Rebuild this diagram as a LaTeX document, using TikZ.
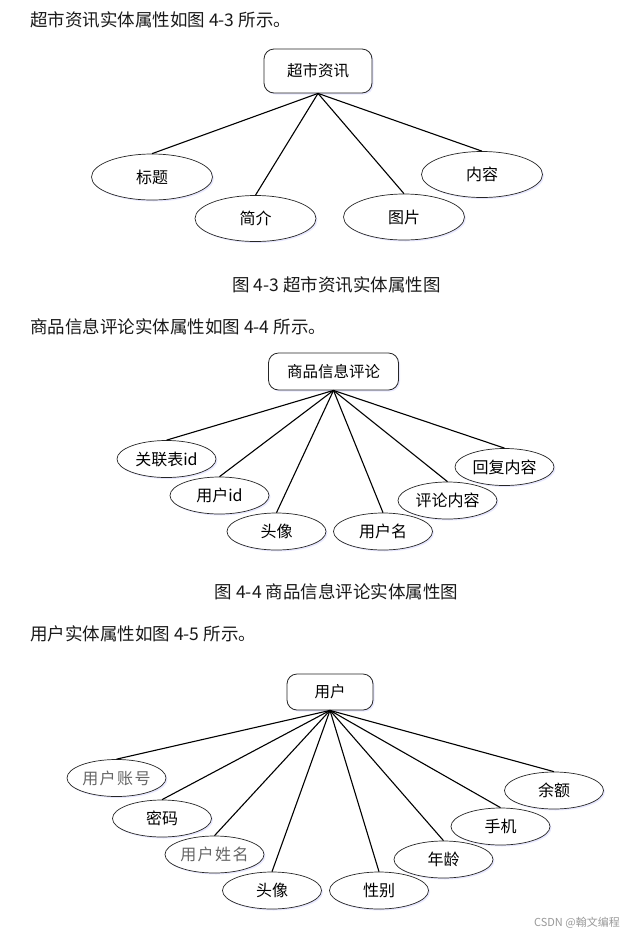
\documentclass[tikz,border=0pt]{standalone}
\usepackage{fontspec}
\setmainfont{Noto Sans CJK SC}
\usetikzlibrary{shapes.geometric,shadows}
\begin{document}
\begin{tikzpicture}[x=1pt,y=-1pt,
  shad/.style={drop shadow={shadow xshift=1.5pt,shadow yshift=-1.5pt,fill=blue!25,opacity=0.35}},
  ent/.style={draw=black!85, line width=0.8pt, rounded corners=10pt, fill=white, inner sep=0pt, shad, font=\fontsize{15.5}{18}\selectfont},
  attr/.style={ellipse, draw=black!85, line width=0.7pt, fill=white, inner sep=0pt, shad, font=\fontsize{16}{19}\selectfont},
  big/.style={minimum width=121pt, minimum height=46pt},
  small/.style={minimum width=99pt, minimum height=37pt},
  conn/.style={line width=1.1pt, black},
  txt/.style={anchor=west, inner sep=0pt, text=black!90, font=\fontsize{17.5}{20}\selectfont},
  captext/.style={inner sep=0pt, text=black!90, font=\fontsize{17.5}{20}\selectfont},
  lite/.style={text=black!60}]
\useasboundingbox (0,0) rectangle (625,935);
\fill[white] (0,0) rectangle (625,935);

% ---------- Figure 4-3 ----------
\node[txt] (h1) at (30,20) {超市资讯实体属性如图 4-3 所示。};
\node[ent, minimum width=108pt, minimum height=44pt] (e1) at (318,71) {超市资讯};
\node[attr,big] (a11) at (152,177) {标题};
\node[attr,big] (a12) at (255.5,218.5) {简介};
\node[attr,big] (a13) at (404,217) {图片};
\node[attr,big] (a14) at (482,174.5) {内容};
\foreach \t in {a11,a12,a13,a14} \draw[conn] (e1.south) -- (\t.north);
\node[captext] (c1) at (336.5,285) {图 4-3 超市资讯实体属性图};

% ---------- Figure 4-4 ----------
\node[txt] (h2) at (30,327) {商品信息评论实体属性如图 4-4 所示。};
\node[ent, minimum width=130pt, minimum height=37pt] (e2) at (333.5,371.5) {商品信息评论};
\node[attr,small] (a21) at (166.5,459) {关联表id};
\node[attr,small] (a22) at (219.5,495.5) {用户id};
\node[attr,small] (a23) at (276.5,531.5) {头像};
\node[attr,small] (a24) at (383,531.5) {用户名};
\node[attr,small] (a25) at (447.5,500.5) {评论内容};
\node[attr,small] (a26) at (504.5,467) {回复内容};
\foreach \t in {a21,a22,a23,a24,a25,a26} \draw[conn] (e2.south) -- (\t.north);
\node[captext] (c2) at (336.5,591.5) {图 4-4 商品信息评论实体属性图};

% ---------- Figure 4-5 ----------
\node[txt] (h3) at (30,634) {用户实体属性如图 4-5 所示。};
\node[ent, minimum width=86pt, minimum height=36pt] (e3) at (330,692) {用户};
\node[attr,small,lite] (a31) at (116.5,778) {用\kern1.5pt 户\kern1.5pt 账\kern1.5pt 号};
\node[attr,small] (a32) at (162,818.5) {密码};
\node[attr,small,lite] (a33) at (214.5,854.5) {用\kern1.5pt 户\kern1.5pt 姓\kern1.5pt 名};
\node[attr,small] (a34) at (272,890.5) {头像};
\node[attr,small] (a35) at (379,890.5) {性别};
\node[attr,small] (a36) at (443.5,859.5) {年龄};
\node[attr,small] (a37) at (500.5,826.5) {手机};
\node[attr,small] (a38) at (554,790.5) {余额};
\foreach \t in {a31,a32,a33,a34,a35,a36,a37,a38} \draw[conn] (e3.south) -- (\t.north);

\node[anchor=east, inner sep=0pt, text=black!40, font=\fontsize{11}{13}\selectfont] (wm) at (620,923) {CSDN @翰文编程};
\end{tikzpicture}
\end{document}
